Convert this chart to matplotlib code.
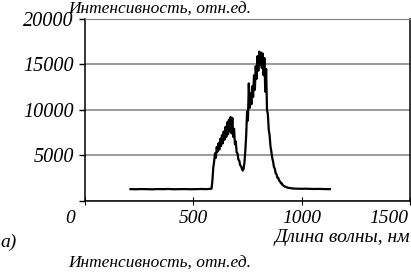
import numpy as np
import matplotlib.pyplot as plt
from matplotlib.transforms import ScaledTranslation

plt.rcParams['font.family'] = ['Liberation Serif', 'DejaVu Serif']
plt.rcParams['font.style'] = 'italic'
plt.rcParams['font.size'] = 14.5

# flat baseline on the short-wave side
wl_left = [210, 235, 260, 285, 310, 335, 360, 385, 410, 435, 460, 485, 510, 535, 560, 584]
int_left = [1250, 1240, 1260, 1250, 1230, 1260, 1250, 1270, 1240, 1250, 1260, 1240, 1250, 1270, 1250, 1300]

# noisy band, 4 nm step from 588 to 920
wl_band = list(range(588, 924, 4))
int_band = [
    2200, 3600, 4300, 5200, 4700, 5900, 5400, 6300, 5600, 6800,
    6000, 7200, 6300, 7600, 6700, 8100, 7000, 8600, 7300, 8900,
    7600, 9200, 7400, 9100, 7000, 7900, 6200, 6500, 5300, 5200,
    4500, 4400, 3900, 3800, 3500, 3300, 3500, 4200, 5500, 7200,
    9800, 8800, 12900, 10200, 11800, 10600, 12600, 11400, 13800, 12200,
    14800, 13400, 15900, 14300, 16400, 15000, 16300, 14600, 16200, 13800,
    15700, 12000, 14500, 10000, 9500, 7800, 7200, 6000, 5400, 4700,
    4300, 3700, 3500, 3000, 2900, 2500, 2500, 2200, 2100, 1900,
    1900, 1700, 1650, 1550,
]

# long-wave tail
wl_right = [928, 936, 944, 952, 960, 980, 1000, 1020, 1040, 1060, 1080, 1100, 1130]
int_right = [1500, 1400, 1380, 1350, 1320, 1300, 1290, 1300, 1280, 1270, 1280, 1260, 1250]

wavelength = np.array(wl_left + wl_band + wl_right)
intensity = np.array(int_left + int_band + int_right)

x_ticks = [0, 500, 1000, 1500]
y_ticks = [0, 5000, 10000, 15000, 20000]

fig = plt.figure(figsize=(4.11, 2.75), dpi=100)
ax = fig.add_axes([85 / 411, 1 - 200.5 / 275, 325 / 411, 181.5 / 275])

ax.plot(wavelength, intensity, color='black', lw=1.6)

ax.set_xlim(0, 1500)
ax.set_ylim(0, 20000)
ax.set_xticks(x_ticks)
ax.set_yticks(y_ticks)
ax.set_xticklabels([str(v) for v in x_ticks], fontsize=14)
# the origin "0" is shared with the x axis
ax.set_yticklabels([''] + [str(v) for v in y_ticks[1:]])

ax.yaxis.grid(True, color='#808080', lw=1.1)
ax.set_axisbelow(True)
ax.tick_params(axis='y', direction='out', length=4, width=1, pad=4)
ax.tick_params(axis='x', direction='inout', length=6, width=0.8, pad=4)

for side in ['left', 'bottom', 'right']:
    ax.spines[side].set_color('black')
    ax.spines[side].set_linewidth(1.1)
ax.spines['top'].set_color('#808080')

# the end labels sit left of their ticks in the original
shifts = {0: -0.15, 3: -0.21}
labels = ax.get_xticklabels()
for i, dx in shifts.items():
    labels[i].set_transform(labels[i].get_transform() + ScaledTranslation(dx, 0, fig.dpi_scale_trans))

fig.text(68 / 411, 1 - 14 / 275, 'Интенсивность, отн.ед.', ha='left', va='baseline', fontsize=12.5)
fig.text(410 / 411, 1 - 242 / 275, 'Длина волны, нм', ha='right', va='baseline', fontsize=14)
fig.text(0, 1 - 247 / 275, 'а)', ha='left', va='baseline', fontsize=14)
fig.text(68 / 411, 1 - 268 / 275, 'Интенсивность, отн.ед.', ha='left', va='baseline', fontsize=12.5)

fig.savefig('out.png', dpi=100)
